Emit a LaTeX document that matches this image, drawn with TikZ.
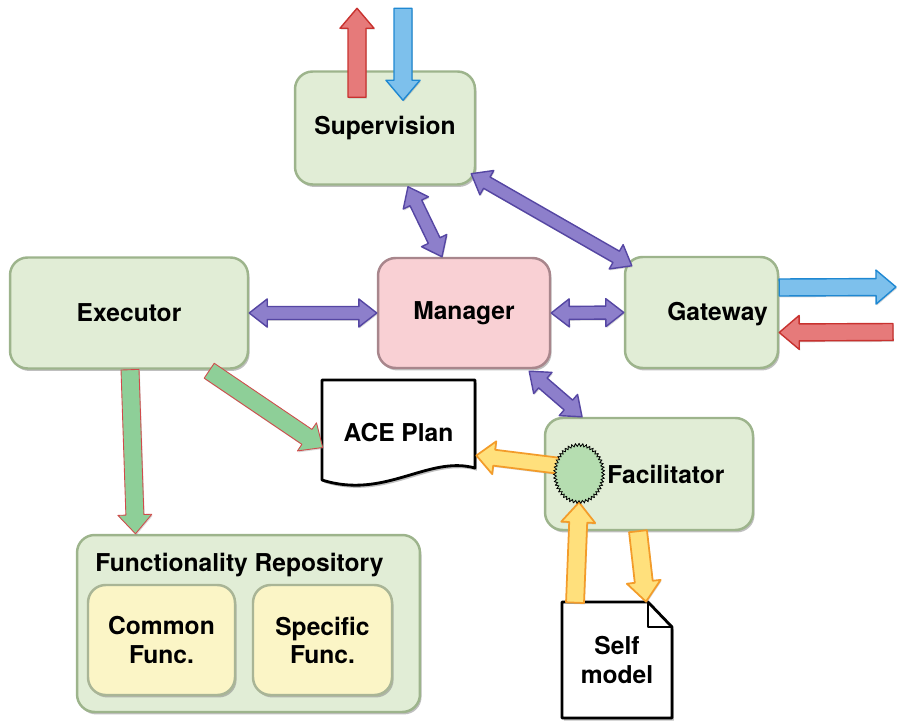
\documentclass[tikz,border=0pt]{standalone}
\usepackage{fontspec}
\setmainfont{TeX Gyre Heros}
\usepackage{tikz}
\usetikzlibrary{calc,positioning,shapes.geometric,shadows,decorations.pathmorphing}
\definecolor{AceBox}{HTML}{E1EDD6}
\definecolor{AceBoxLine}{HTML}{9DB48C}
\definecolor{AcePink}{HTML}{F9D0D4}
\definecolor{AcePinkLine}{HTML}{A8868C}
\definecolor{AceCream}{HTML}{FBF5C6}
\definecolor{AceCreamLine}{HTML}{A9B596}
\definecolor{AcePurple}{HTML}{8D7FCB}
\definecolor{AcePurpleLine}{HTML}{5546A3}
\definecolor{AceRed}{HTML}{E67A7A}
\definecolor{AceRedLine}{HTML}{C8322F}
\definecolor{AceBlue}{HTML}{7DC0EC}
\definecolor{AceBlueLine}{HTML}{1F88D2}
\definecolor{AceGreen}{HTML}{8ECF98}
\definecolor{AceGreenLine}{HTML}{D04B4B}
\definecolor{AceYellow}{HTML}{FFE07C}
\definecolor{AceYellowLine}{HTML}{F39C2A}
\definecolor{AceHub}{HTML}{B5DDB0}

% block arrows: shaft half width, head half width, head length
\newcommand{\arrowsize}[3]{\def\aceshaft{#1}\def\acehead{#2}\def\acetip{#3}}
\newcommand{\fatarrow}[3][]{%
  \coordinate (fa-b) at ($(#3)!\acetip!(#2)$);
  \draw[#1] ($(#2)!\aceshaft!90:(#3)$) -- ($(fa-b)!\aceshaft!90:(#3)$)
    -- ($(fa-b)!\acehead!90:(#3)$) -- (#3)
    -- ($(fa-b)!\acehead!-90:(#3)$) -- ($(fa-b)!\aceshaft!-90:(#3)$)
    -- ($(#2)!\aceshaft!-90:(#3)$) -- cycle;}
\newcommand{\dblarrow}[3][]{%
  \coordinate (da-a) at ($(#2)!\acetip!(#3)$);
  \coordinate (da-b) at ($(#3)!\acetip!(#2)$);
  \draw[#1] (#2) -- ($(da-a)!\acehead!90:(#3)$) -- ($(da-a)!\aceshaft!90:(#3)$)
    -- ($(da-b)!\aceshaft!90:(#3)$) -- ($(da-b)!\acehead!90:(#3)$) -- (#3)
    -- ($(da-b)!\acehead!-90:(#3)$) -- ($(da-b)!\aceshaft!-90:(#3)$)
    -- ($(da-a)!\aceshaft!-90:(#3)$) -- ($(da-a)!\acehead!-90:(#3)$) -- cycle;}

\begin{document}
\begin{tikzpicture}[x=0.02cm,y=-0.02cm,
  font=\fontsize{14}{16}\selectfont\bfseries,
  box/.style={draw=AceBoxLine,fill=AceBox,line width=1.4pt,rounded corners=10pt,
    drop shadow={shadow xshift=0.9pt,shadow yshift=-1.4pt,opacity=0.5}},
  inbox/.style={box,draw=AceCreamLine,fill=AceCream,align=center},
  doc/.style={draw=black,fill=white,line width=1.6pt,line join=round,
    drop shadow={shadow xshift=1pt,shadow yshift=-1.5pt,opacity=0.5}},
  arrowbase/.style={line width=0.8pt,line join=round,
    drop shadow={shadow xshift=0.5pt,shadow yshift=-0.8pt,opacity=0.3}},
  purplearrow/.style={arrowbase,draw=AcePurpleLine,fill=AcePurple},
  redarrow/.style={arrowbase,draw=AceRedLine,fill=AceRed},
  bluearrow/.style={arrowbase,draw=AceBlueLine,fill=AceBlue},
  greenarrow/.style={arrowbase,line width=0.5pt,draw=AceGreenLine,fill=AceGreen},
  yellowarrow/.style={arrowbase,line width=1pt,draw=AceYellowLine,fill=AceYellow},
  hubnode/.style={ellipse,draw=black,fill=AceHub,line width=0.4pt,inner sep=0pt,
    minimum width=0.96cm,minimum height=1.14cm,
    decorate,decoration={zigzag,segment length=2pt,amplitude=0.8pt}}]
\useasboundingbox (0,0) rectangle (898,722);

% boxes
\node[box,minimum width=3.6cm,minimum height=2.26cm] (sup) at (385,128) {Supervision};
\node[box,minimum width=4.76cm,minimum height=2.22cm] (exe) at (129,313) {Executor};
\node[box,fill=AcePink,draw=AcePinkLine,minimum width=3.44cm,minimum height=2.2cm] (man) at (464,313) {Manager};
\node[box,minimum width=3.06cm,minimum height=2.22cm,label={[xshift=0.32cm,yshift=-0.04cm]center:Gateway}] (gat) at (701.5,312.5) {};
\node[box,minimum width=4.16cm,minimum height=2.24cm,label={[xshift=0.34cm]center:Facilitator}] (fac) at (649,474) {};
\node[box,minimum width=6.86cm,minimum height=3.54cm,
  label={[anchor=north,xshift=-0.18cm,yshift=-0.26cm]north:Functionality Repository}] (repo) at (248.5,623.5) {};
\node[inbox,minimum width=2.94cm,minimum height=2.2cm] (com) at (161.5,640) {Common\\Func.};
\node[inbox,minimum width=2.78cm,minimum height=2.2cm] (spec) at (322.5,640) {Specific\\Func.};

% documents
\path[doc] (322,380) -- (475,380) -- (475,468) .. controls (428,455) and (385,500) .. (322,480) -- cycle;
\node[minimum width=3.06cm,minimum height=2.1cm] (plan) at (398.5,432.5) {ACE Plan};
\path[doc] (562,602) -- (648,602) -- (672,627) -- (672,718) -- (562,718) -- cycle;
\draw[line width=1.2pt,line join=round] (648,602) -- (648,627) -- (672,627);
\node[align=center,minimum width=2.2cm,minimum height=2.32cm] (self) at (617,660) {Self\\model};

% end points
\coordinate (supRedA) at ($(sup.north)+(-28,27)$);
\coordinate (supRedB) at ($(sup.north)+(-28,-62)$);
\coordinate (supBlueA) at ($(sup.north)+(18,-62)$);
\coordinate (supBlueB) at ($(sup.north)+(18,30)$);
\coordinate (gatBlueA) at ($(gat.east)+(0,-25)$);
\coordinate (gatBlueB) at (896,287);
\coordinate (gatRedA) at (893,332);
\coordinate (gatRedB) at ($(gat.east)+(0,20)$);

% in and out
\arrowsize{0.18cm}{0.34cm}{0.4cm}
\fatarrow[redarrow]{supRedA}{supRedB}
\fatarrow[bluearrow]{supBlueA}{supBlueB}
\arrowsize{0.17cm}{0.34cm}{0.4cm}
\fatarrow[bluearrow]{gatBlueA}{gatBlueB}
\fatarrow[redarrow]{gatRedA}{gatRedB}

% manager links
\coordinate (p1a) at ($(sup.south)+(23,1)$);
\coordinate (p1b) at ($(man.north)+(-22,0)$);
\coordinate (p2a) at ($(sup.south east)+(-5,-12)$);
\coordinate (p2b) at ($(gat.north west)+(8,10)$);
\coordinate (p5a) at ($(man.south east)+(-22,2)$);
\coordinate (p5b) at ($(fac.north)+(-67,0)$);
\arrowsize{0.13cm}{0.28cm}{0.36cm}
\dblarrow[purplearrow]{p1a}{p1b}
\dblarrow[purplearrow]{p2a}{p2b}
\dblarrow[purplearrow]{exe.east}{man.west}
\dblarrow[purplearrow]{man.east}{gat.west}
\dblarrow[purplearrow]{p5a}{p5b}

% executor
\coordinate (g1a) at ($(exe.south)+(1,0)$);
\coordinate (g1b) at ($(repo.north)+(-113,0)$);
\coordinate (g2a) at ($(exe.south east)+(-40,1)$);
\coordinate (g2b) at ($(plan.west)+(1,15)$);
\arrowsize{0.18cm}{0.34cm}{0.38cm}
\fatarrow[greenarrow]{g1a}{g1b}
\fatarrow[greenarrow]{g2a}{g2b}

% facilitator
\node[hubnode] (hub) at (579,473.5) {};
\coordinate (y1a) at ($(hub.center)+(-14,-7)$);
\coordinate (y1b) at ($(plan.east)+(1,23)$);
\coordinate (y2a) at ($(self.north)+(-42,1)$);
\coordinate (y3a) at ($(fac.south)+(-11,0)$);
\coordinate (y3b) at ($(self.north)+(29,0)$);
\arrowsize{0.16cm}{0.33cm}{0.36cm}
\fatarrow[yellowarrow]{y1a}{y1b}
\arrowsize{0.18cm}{0.34cm}{0.4cm}
\fatarrow[yellowarrow]{y2a}{hub.south}
\fatarrow[yellowarrow]{y3a}{y3b}
\node[hubnode] at (hub) {};
\end{tikzpicture}
\end{document}
